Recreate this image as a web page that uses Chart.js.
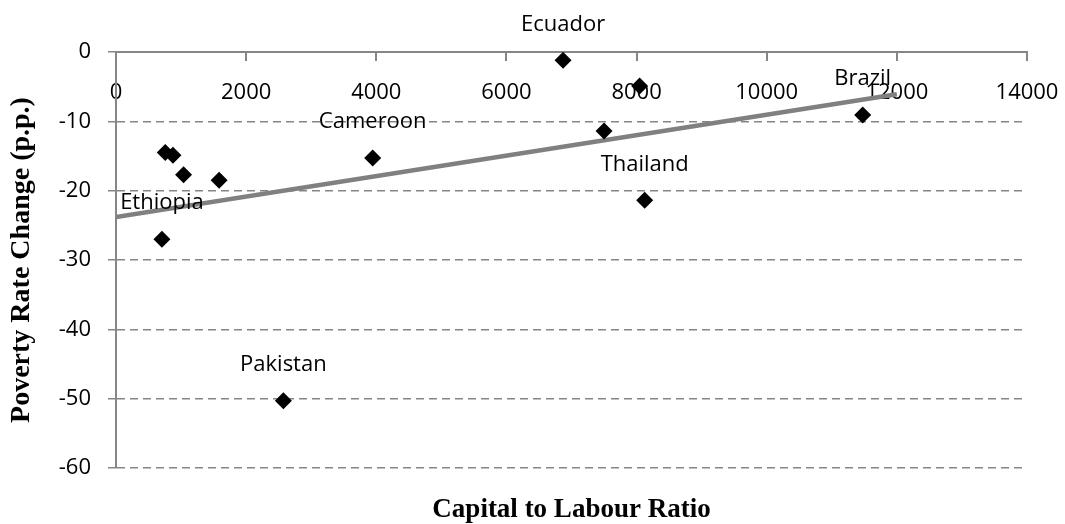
<!DOCTYPE html>
<html>
<head>
<meta charset="utf-8">
<script src="https://cdn.jsdelivr.net/npm/chart.js@4/dist/chart.umd.min.js"></script>
<style>
  html, body { margin: 0; padding: 0; background: #ffffff; }
  #wrap { width: 1065px; height: 524px; position: relative; }
</style>
</head>
<body>
<div id="wrap"><canvas id="c" width="1065" height="524"></canvas></div>
<script>
// ---- data ----
const capitalLabour = [706, 757, 875, 1038, 1585, 2572, 3945, 6870, 7500, 8047, 8125, 11475];
const povertyChange = [-27.0, -14.5, -14.9, -17.7, -18.5, -50.3, -15.3, -1.2, -11.4, -4.9, -21.4, -9.1];
const countryLabels = ['Ethiopia', '', '', '', '', 'Pakistan', 'Cameroon', 'Ecuador', '', '', 'Thailand', 'Brazil'];
const trendX = [0, 12000];
const trendY = [-23.8, -6.1];
const xTicks = [0, 2000, 4000, 6000, 8000, 10000, 12000, 14000];
const yTicks = [0, -10, -20, -30, -40, -50, -60];
const xTitle = 'Capital to Labour Ratio';
const yTitle = 'Poverty Rate Change (p.p.)';

const AXIS = '#868686';
Chart.defaults.font.family = "'Open Sans', sans-serif";
Chart.defaults.color = '#000000';

const pointLabelPlugin = {
  id: 'pointLabels',
  afterDatasetsDraw(chart) {
    const meta = chart.getDatasetMeta(0);
    const ctx = chart.ctx;
    ctx.save();
    ctx.font = "22px 'Open Sans', sans-serif";
    ctx.fillStyle = '#000000';
    ctx.textAlign = 'center';
    ctx.textBaseline = 'middle';
    meta.data.forEach((el, i) => {
      const t = countryLabels[i];
      if (t) ctx.fillText(t, el.x, el.y - 36);
    });
    ctx.restore();
  }
};

new Chart(document.getElementById('c'), {
  type: 'scatter',
  data: {
    datasets: [
      {
        label: 'Countries',
        data: capitalLabour.map((x, i) => ({ x: x, y: povertyChange[i] })),
        pointStyle: 'rectRot',
        pointRadius: 8.5,
        pointHoverRadius: 8.5,
        backgroundColor: '#000000',
        borderColor: '#000000',
        borderWidth: 0,
        order: 1
      },
      {
        type: 'line',
        label: 'Trend',
        data: trendX.map((x, i) => ({ x: x, y: trendY[i] })),
        borderColor: '#808080',
        borderWidth: 4.5,
        pointRadius: 0,
        fill: false,
        order: 2
      }
    ]
  },
  options: {
    responsive: false,
    animation: false,
    layout: { padding: { left: 0, right: 38, top: 52, bottom: 0 } },
    plugins: {
      legend: { display: false },
      tooltip: { enabled: false },
      title: {
        display: true,
        text: xTitle,
        position: 'bottom',
        fullSize: false,
        color: '#000000',
        font: { family: "'Liberation Serif', 'Times New Roman', serif", size: 27, weight: 'bold', lineHeight: 1.0 },
        padding: { top: 29, bottom: 0 }
      }
    },
    scales: {
      x: {
        type: 'linear',
        position: { y: 0 },
        min: 0,
        max: 14000,
        afterBuildTicks(scale) { scale.ticks = xTicks.map(v => ({ value: v })); },
        afterFit(scale) { scale.paddingLeft = 0; scale.paddingRight = 0; },
        ticks: { font: { size: 22 }, color: '#000000', padding: 20, maxRotation: 0, callback: v => String(v) },
        grid: { drawOnChartArea: false, drawTicks: true, tickLength: 8, color: AXIS, lineWidth: 2, tickBorderDash: [] },
        border: { display: true, color: AXIS, width: 2 }
      },
      y: {
        type: 'linear',
        position: 'left',
        min: -60,
        max: 0,
        afterBuildTicks(scale) { scale.ticks = yTicks.map(v => ({ value: v })); },
        afterFit(scale) { scale.width = 116; },
        ticks: { font: { size: 22 }, color: '#000000', padding: 17, callback: v => String(v) },
        grid: { drawOnChartArea: true, drawTicks: true, tickLength: 8, color: AXIS, lineWidth: 1.5, tickBorderDash: [] },
        border: { display: true, color: AXIS, width: 2, dash: [8, 5] },
        title: {
          display: true,
          text: yTitle,
          color: '#000000',
          font: { family: "'Liberation Serif', 'Times New Roman', serif", size: 28, weight: 'bold', lineHeight: 1.2 },
          padding: { top: 5, bottom: 0 }
        }
      }
    }
  },
  plugins: [pointLabelPlugin]
});
</script>
</body>
</html>
